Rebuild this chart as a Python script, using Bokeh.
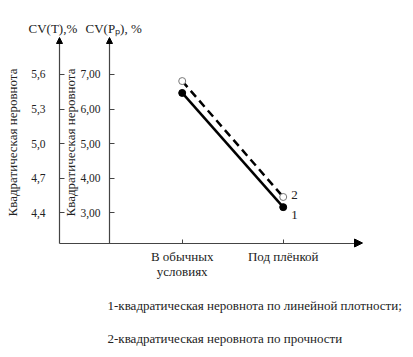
from bokeh.plotting import figure
from bokeh.models import Range1d, LinearAxis, FixedTicker, Label, Arrow, NormalHead
from bokeh.embed import file_html
from bokeh.resources import INLINE
from bokeh.core.properties import value

# ---- data ----
categories = ["В обычных\nусловиях", "Под плёнкой"]
cv_t = [5.44, 4.45]          # 1 - CV(T), outer axis
cv_p = [6.81, 3.46]          # 2 - CV(Pp), inner axis
t_ticks = [4.4, 4.7, 5.0, 5.3, 5.6]
t_tick_labels = ["4,4", "4,7", "5,0", "5,3", "5,6"]
p_ticks = [3, 4, 5, 6, 7]
p_tick_labels = ["3,00", "4,00", "5,00", "6,00", "7,00"]
series_names = ["1", "2"]
legend_lines = ["1-квадратическая неровнота по линейной плотности;",
                "2-квадратическая неровнота по прочности"]
y_titles = ["CV(T),%", "CV(Pₚ), %"]
axis_title = "Квадратическая неровнота"

x_pos = list(range(1, len(categories) + 1))

FONT = "Liberation Serif"
TXT = "#222222"
AX = "#444444"

W, H = 413, 357
# ranges span the whole canvas (frame = canvas)
X0, X1 = -0.799, 3.290
T0, T1 = 3.1462, 6.2416
P0, P1 = -1.1792, 9.1387


def xd(px):   # canvas px -> x data
    return X0 + px / W * (X1 - X0)


def td(py):   # canvas px -> CV(T) data
    return T1 - py / H * (T1 - T0)


def pd(py):   # canvas px -> CV(Pp) data
    return P1 - py / H * (P1 - P0)


p = figure(width=W, height=H, output_backend="svg", toolbar_location=None,
           x_range=Range1d(X0, X1), y_range=Range1d(T0, T1), min_border=0)
p.extra_y_ranges = {"pp": Range1d(P0, P1)}
p.outline_line_color = None
p.grid.visible = False
p.background_fill_color = "white"
p.border_fill_color = "white"

x_axis_px, t_axis_px, p_axis_px, top_px, right_px = 242.5, 59, 109, 41, 362


def style_axis(ax):
    ax.axis_line_color = AX
    ax.axis_line_width = 1.2
    ax.major_tick_line_color = AX
    ax.minor_tick_line_color = None
    ax.major_tick_in = 5
    ax.major_tick_out = 0
    ax.major_label_text_font = FONT
    ax.major_label_text_color = TXT
    ax.axis_label_text_font = FONT
    ax.axis_label_text_color = TXT
    ax.axis_label_text_font_style = "normal"


# x axis
xa = p.xaxis[0]
style_axis(xa)
xa.fixed_location = td(x_axis_px)
xa.bounds = (xd(t_axis_px), xd(right_px - 4))
xa.ticker = FixedTicker(ticks=x_pos)
xa.major_label_overrides = dict(zip(x_pos, categories))
xa.major_label_text_font_size = "13px"
xa.major_label_text_line_height = 1.0
xa.major_label_standoff = 6
xa.major_tick_in = 4

# outer axis CV(T)
ya = p.yaxis[0]
style_axis(ya)
ya.fixed_location = xd(t_axis_px)
ya.bounds = (td(x_axis_px), td(top_px))
ya.ticker = FixedTicker(ticks=t_ticks)
ya.major_label_overrides = dict(zip(t_ticks, t_tick_labels))
ya.major_label_text_font_size = "11.5px"
ya.major_label_standoff = 14
ya.axis_label = axis_title
ya.axis_label_text_font_size = "13px"
ya.axis_label_standoff = 8

# inner axis CV(Pp)
ya2 = LinearAxis(y_range_name="pp", fixed_location=xd(p_axis_px))
style_axis(ya2)
ya2.bounds = (pd(x_axis_px), pd(top_px))
ya2.ticker = FixedTicker(ticks=p_ticks)
ya2.major_label_overrides = dict(zip(p_ticks, p_tick_labels))
ya2.major_label_text_font_size = "11.5px"
ya2.major_label_standoff = 9
ya2.axis_label = axis_title
ya2.axis_label_text_font_size = "13px"
ya2.axis_label_standoff = -1
p.add_layout(ya2, "left")

# arrow heads on axes
arrows = [(xd(right_px - 8), td(x_axis_px), xd(right_px), td(x_axis_px), 8),
          (xd(t_axis_px), td(top_px + 2), xd(t_axis_px), td(top_px - 4), 6),
          (xd(p_axis_px), td(top_px + 2), xd(p_axis_px), td(top_px - 4), 6)]
for (xs, ys, xe, ye, sz) in arrows:
    p.add_layout(Arrow(end=NormalHead(size=sz, fill_color="black", line_color="black",
                                      line_width=1),
                       x_start=xs, y_start=ys, x_end=xe, y_end=ye, line_color=None))

# series
p.line(x_pos, cv_t, line_color="black", line_width=2.5)
p.scatter(x_pos, cv_t, size=7, fill_color="black", line_color="black")
p.line(x_pos, cv_p, y_range_name="pp", line_color="black", line_width=2.5,
       line_dash="8 5")
p.scatter(x_pos, cv_p, y_range_name="pp", size=7, fill_color="white",
          line_color="#777777", line_width=1)

p.text(x=[x_pos[-1]], y=[cv_t[-1]], text=[series_names[0]], x_offset=8, y_offset=8,
       text_font=value(FONT), text_font_size="13px", text_color=TXT,
       text_baseline="middle", text_align="left")
p.text(x=[x_pos[-1]], y=[cv_p[-1]], text=[series_names[1]], y_range_name="pp",
       x_offset=8, y_offset=-2,
       text_font=value(FONT), text_font_size="13px", text_color=TXT,
       text_baseline="middle", text_align="left")

# titles of y axes
p.add_layout(Label(x=xd(28), y=td(27.5), text=y_titles[0],
                   text_font=FONT, text_font_size="13px", text_color=TXT,
                   text_align="left", text_baseline="middle"))
p.add_layout(Label(x=xd(85), y=td(27.5), text=y_titles[1],
                   text_font=FONT, text_font_size="13px", text_color=TXT,
                   text_align="left", text_baseline="middle"))

# legend text
for txt, py in zip(legend_lines, [305, 338]):
    p.add_layout(Label(x=xd(107), y=td(py), text=txt,
                       text_font=FONT, text_font_size="13px", text_color=TXT,
                       text_align="left", text_baseline="middle"))

open("out.html", "w").write(file_html(p, INLINE))
